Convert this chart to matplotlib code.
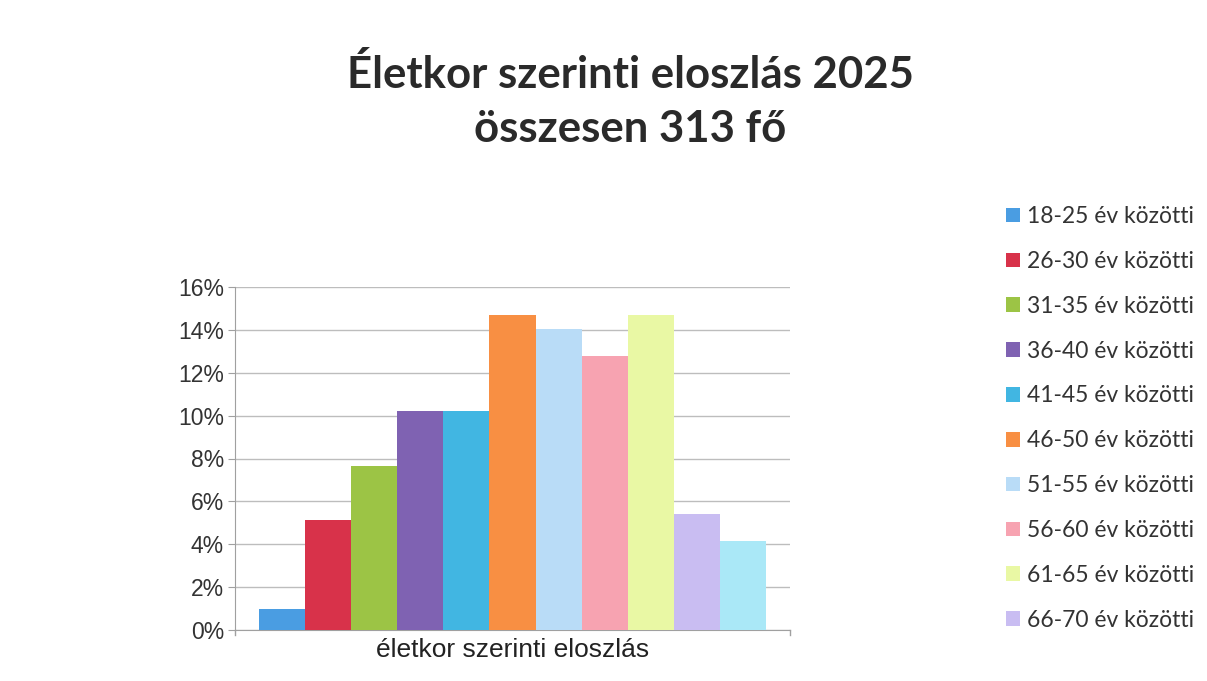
import matplotlib
matplotlib.use("Agg")
import matplotlib.pyplot as plt
from matplotlib.ticker import PercentFormatter

# age groups (the last one is cut off from the legend in the original)
groups = ["18-25 év közötti", "26-30 év közötti", "31-35 év közötti", "36-40 év közötti",
          "41-45 év közötti", "46-50 év közötti", "51-55 év közötti", "56-60 év közötti",
          "61-65 év közötti", "66-70 év közötti", "70 év feletti"]
shares = [0.96, 5.11, 7.67, 10.22, 10.22, 14.70, 14.06, 12.78, 14.70, 5.43, 4.15]
colors = ["#4a9de2", "#d8324a", "#9cc445", "#7f62b2", "#41b6e2", "#f88f43",
          "#b9dcf7", "#f7a3b1", "#e9f8a4", "#c9bdf2", "#aae8f7"]

fig = plt.figure(figsize=(12.07, 6.81), dpi=100)
ax = fig.add_axes([235 / 1207, 1 - 630 / 681, 555 / 1207, 343 / 681])

bars = []
for i in range(len(shares)):
    b = ax.bar(i, shares[i], width=1.0, color=colors[i], label=groups[i], zorder=3)
    bars.append(b)

ax.set_xlim(-1.03, 11.03)
ax.set_ylim(0, 16)
ax.set_yticks(range(0, 17, 2))
ax.yaxis.set_major_formatter(PercentFormatter(decimals=0))
ax.set_xticks([])
ax.grid(axis="y", color="#bdbdbd", linewidth=1, zorder=0)
for s in ["top", "right"]:
    ax.spines[s].set_visible(False)
ax.spines["left"].set_color("#a0a0a0")
ax.spines["bottom"].set_color("#a0a0a0")
ax.tick_params(axis="y", length=5, color="#a0a0a0", labelsize=16.5, labelcolor="#333333", pad=3)
for lab in ax.get_yticklabels():
    lab.set_family("Liberation Sans")
# small end ticks on the x axis
ax.plot([-1.03, -1.03], [0, -0.25], color="#a0a0a0", lw=1, clip_on=False)
ax.plot([11.03, 11.03], [0, -0.25], color="#a0a0a0", lw=1, clip_on=False)

ax.set_xlabel("életkor szerinti eloszlás", family="Liberation Sans", fontsize=19,
              color="#222222", labelpad=6)

fig.text(630 / 1207, 1 - 74 / 681, "Életkor szerinti eloszlás 2025", ha="center", va="center",
         family="Lato", fontweight="bold", fontsize=31.5, color="#2a2a2a")
fig.text(630 / 1207, 1 - 129 / 681, "összesen 313 fő", ha="center", va="center",
         family="Lato", fontweight="bold", fontsize=31.5, color="#2a2a2a")

leg = fig.legend([b[0] for b in bars[:10]], groups[:10], loc="upper left",
                 bbox_to_anchor=(997 / 1207, 1 - 197 / 681), frameon=False,
                 prop={"family": "Lato", "size": 16.5}, handlelength=0.6, handleheight=0.6,
                 handletextpad=0.3, labelspacing=1.04, borderaxespad=0)
for t in leg.get_texts():
    t.set_color("#333333")

fig.savefig("out.png", dpi=100, facecolor="white")
